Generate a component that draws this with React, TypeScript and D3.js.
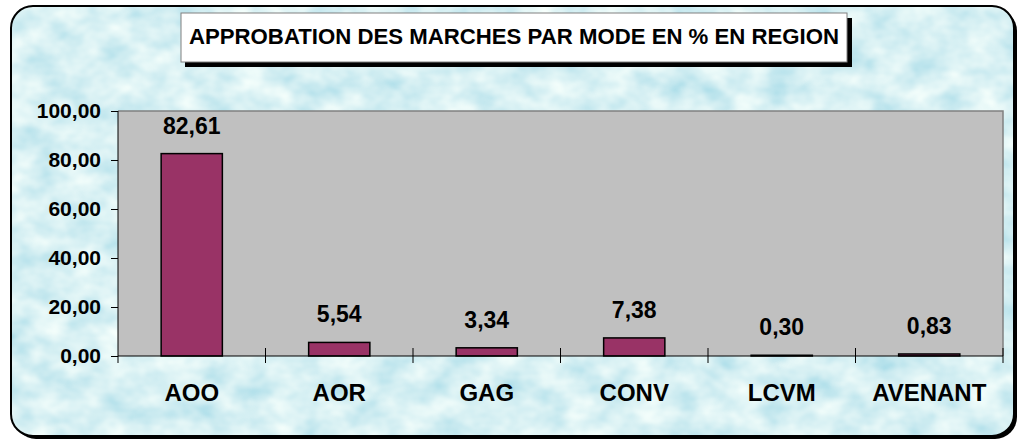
import React, { useEffect, useRef } from 'react';
import * as d3 from 'd3';

// data
const categories = ['AOO', 'AOR', 'GAG', 'CONV', 'LCVM', 'AVENANT'];
const values = [82.61, 5.54, 3.34, 7.38, 0.3, 0.83];
const yTicks = [0, 20, 40, 60, 80, 100];
const title = 'APPROBATION DES MARCHES PAR MODE EN % EN REGION';

export default function App() {
  const ref = useRef<SVGSVGElement>(null);
  const width = 1022;
  const height = 441;
  const plot = { left: 118, right: 1003, top: 111, bottom: 356 };
  const font = 'Arial, "Liberation Sans", sans-serif';

  useEffect(() => {
    const svg = d3.select(ref.current);
    svg.selectAll('*').remove();

    // ------------ defs: water texture ------------//
    const defs = svg.append('defs');
    const filter = defs.append('filter').attr('id', 'water')
      .attr('x', 0).attr('y', 0).attr('width', '100%').attr('height', '100%');
    filter.append('feTurbulence')
      .attr('type', 'fractalNoise')
      .attr('baseFrequency', '0.03 0.04')
      .attr('numOctaves', 3)
      .attr('seed', 7)
      .attr('result', 'noise');
    filter.append('feColorMatrix')
      .attr('in', 'noise')
      .attr('type', 'matrix')
      .attr('values', '0.65 0 0 0 0.36  0.35 0 0 0 0.7  0.2 0 0 0 0.8  0 0 0 0 1');

    defs.append('clipPath').attr('id', 'frameClip')
      .append('rect')
      .attr('x', 11).attr('y', 6).attr('width', 1003).attr('height', 430)
      .attr('rx', 22);

    // ------------ frame ------------//
    svg.append('rect')
      .attr('x', 14).attr('y', 9).attr('width', 1003).attr('height', 430)
      .attr('rx', 22).attr('fill', '#000');

    svg.append('rect')
      .attr('x', 11).attr('y', 6).attr('width', 1003).attr('height', 430)
      .attr('filter', 'url(#water)')
      .attr('clip-path', 'url(#frameClip)');

    svg.append('rect')
      .attr('x', 11).attr('y', 6).attr('width', 1003).attr('height', 430)
      .attr('rx', 22).attr('fill', 'none')
      .attr('stroke', '#000').attr('stroke-width', 2);

    // ------------ title ------------//
    svg.append('rect')
      .attr('x', 185).attr('y', 18).attr('width', 667).attr('height', 49)
      .attr('fill', '#000');
    svg.append('rect')
      .attr('x', 181).attr('y', 13).attr('width', 666).attr('height', 49)
      .attr('fill', '#fff').attr('stroke', '#808080').attr('stroke-width', 1);
    svg.append('text')
      .attr('x', 514).attr('y', 44)
      .attr('text-anchor', 'middle')
      .attr('font-family', font).attr('font-weight', 'bold')
      .attr('font-size', 22.2)
      .attr('fill', '#000')
      .text(title);

    // ------------ scales ------------//
    const x = d3.scaleBand()
      .domain(categories)
      .range([plot.left, plot.right])
      .paddingInner(0.585)
      .paddingOuter(0.2925);
    const y = d3.scaleLinear()
      .domain([0, 100])
      .range([plot.bottom, plot.top]);

    // plot area
    svg.append('rect')
      .attr('x', plot.left).attr('y', plot.top)
      .attr('width', plot.right - plot.left).attr('height', plot.bottom - plot.top)
      .attr('fill', '#c0c0c0');
    svg.append('path')
      .attr('d', `M${plot.left},${plot.top}H${plot.right}V${plot.bottom}`)
      .attr('fill', 'none').attr('stroke', '#808080').attr('stroke-width', 1.5);

    // bars
    svg.append('g')
      .selectAll('rect')
      .data(values)
      .join('rect')
      .attr('x', (d, i) => x(categories[i])!)
      .attr('y', (d) => y(d))
      .attr('width', x.bandwidth())
      .attr('height', (d) => y(0) - y(d))
      .attr('fill', '#993366')
      .attr('stroke', '#000')
      .attr('stroke-width', 1.5);

    // value labels
    svg.append('g')
      .selectAll('text')
      .data(values)
      .join('text')
      .attr('x', (d, i) => x(categories[i])! + x.bandwidth() / 2)
      .attr('y', (d) => y(d) - 20)
      .attr('text-anchor', 'middle')
      .attr('font-family', font).attr('font-weight', 'bold')
      .attr('font-size', 23)
      .text((d) => d3.format('.2f')(d).replace('.', ','));

    // ------------ axes ------------//
    const yAxis = d3.axisLeft(y)
      .tickValues(yTicks)
      .tickSize(7)
      .tickPadding(10)
      .tickFormat((d) => d3.format('.2f')(d as number).replace('.', ','));
    const gy = svg.append('g')
      .attr('transform', `translate(${plot.left},0)`)
      .call(yAxis);
    gy.select('.domain').attr('d', `M0,${plot.top}V${plot.bottom}`).attr('stroke', '#000');
    gy.selectAll('.tick line').attr('stroke', '#000');
    gy.selectAll('.tick text')
      .attr('font-family', font).attr('font-weight', 'bold')
      .attr('font-size', 21).attr('fill', '#000');

    // category axis with crossing ticks at band edges
    const gx = svg.append('g');
    gx.append('line')
      .attr('x1', plot.left).attr('x2', plot.right)
      .attr('y1', plot.bottom).attr('y2', plot.bottom)
      .attr('stroke', '#000');
    const edges = categories.map((c) => x(c)! - (x.step() * x.paddingInner()) / 2);
    edges.push(plot.right);
    gx.selectAll('line.tk')
      .data(edges)
      .join('line')
      .attr('class', 'tk')
      .attr('x1', (d) => d).attr('x2', (d) => d)
      .attr('y1', (d, i) => (i === 0 ? plot.bottom : plot.bottom - 8))
      .attr('y2', plot.bottom + 7)
      .attr('stroke', '#000');
    gx.selectAll('text')
      .data(categories)
      .join('text')
      .attr('x', (d) => x(d)! + x.bandwidth() / 2)
      .attr('y', 401)
      .attr('text-anchor', 'middle')
      .attr('font-family', font).attr('font-weight', 'bold')
      .attr('font-size', 24)
      .text((d) => d);
  }, []);

  return (
    <svg
      ref={ref}
      width={width}
      height={height}
      style={{ position: 'absolute', left: 0, top: 0, background: '#fff' }}
    />
  );
}
